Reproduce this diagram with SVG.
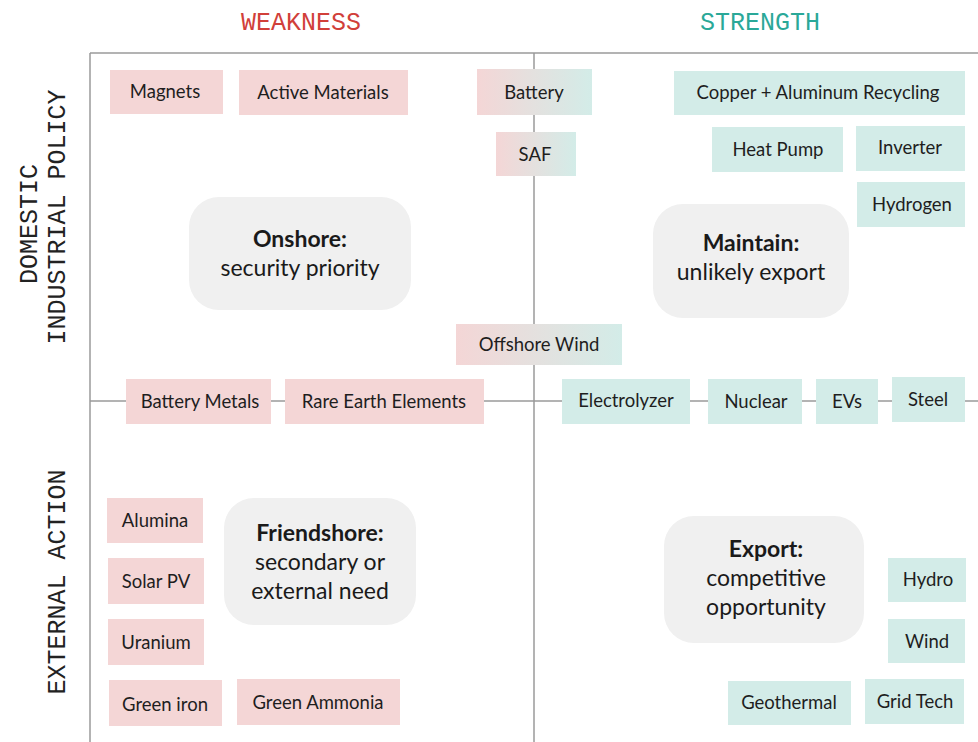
<svg xmlns="http://www.w3.org/2000/svg" width="978" height="742" viewBox="0 0 978 742">
<style>
.ax{font-family:"Liberation Mono","DejaVu Sans Mono",monospace;font-size:25px;fill:#222;text-anchor:middle}
.hd{font-family:"Liberation Mono","DejaVu Sans Mono",monospace;font-size:25px;text-anchor:middle}
.w{fill:#d13f3a}
.s{fill:#2aa898}
.pk{fill:#f4d6d6}
.tl{fill:#d3ece8}
.gr{fill:url(#pt)}
.t{font-family:Lato,"Open Sans",sans-serif;font-size:18.5px;fill:#1e1e1e;text-anchor:middle}
.rb{fill:#f0f0f0}
.bt{font-family:Lato,"Open Sans",sans-serif;font-size:23px;fill:#1a1a1a;text-anchor:middle}
.b{font-weight:bold}
.ln{stroke:#9a9a9a;stroke-width:1.5;fill:none}
</style>
<defs>
<linearGradient id="pt" x1="0" y1="0" x2="1" y2="0">
<stop offset="0" stop-color="#f4d6d6"/>
<stop offset="1" stop-color="#d3ece8"/>
</linearGradient>
</defs>
<rect width="978" height="742" fill="#fff"/>
<g id="labels">
<text class="hd w" x="301" y="30">WEAKNESS</text>
<text class="hd s" x="760" y="30">STRENGTH</text>
<text class="ax" transform="translate(37,224) rotate(-90)">DOMESTIC</text>
<text class="ax" transform="translate(65,217) rotate(-90)">INDUSTRIAL POLICY</text>
<text class="ax" transform="translate(65,582) rotate(-90)">EXTERNAL ACTION</text>
</g>
<g id="connectors">
<path class="ln" d="M90 53H978M90 53V742M534 53V742M90 401H978"/>
</g>
<g id="onshore"><rect class="rb" x="189" y="197" width="222" height="113" rx="30"/><text class="bt b" x="300" y="247">Onshore:</text><text class="bt" x="300" y="276">security priority</text></g>
<g id="maintain"><rect class="rb" x="653" y="204" width="196" height="114" rx="30"/><text class="bt b" x="751" y="251">Maintain:</text><text class="bt" x="751" y="280">unlikely export</text></g>
<g id="friendshore"><rect class="rb" x="224" y="498" width="192" height="127" rx="30"/><text class="bt b" x="320" y="541">Friendshore:</text><text class="bt" x="320" y="570">secondary or</text><text class="bt" x="320" y="599">external need</text></g>
<g id="export"><rect class="rb" x="664" y="516" width="200" height="127" rx="30"/><text class="bt b" x="766" y="557">Export:</text><text class="bt" x="766" y="586">competitive</text><text class="bt" x="766" y="615">opportunity</text></g>
<g id="magnets"><rect class="pk" x="110" y="70" width="113" height="44"/><text class="t" x="165" y="98">Magnets</text></g>
<g id="active-materials"><rect class="pk" x="239" y="70" width="169" height="45"/><text class="t" x="323" y="99">Active Materials</text></g>
<g id="battery"><rect class="gr" x="477" y="69" width="115" height="46"/><text class="t" x="534" y="99">Battery</text></g>
<g id="saf"><rect class="gr" x="496" y="132" width="80" height="44"/><text class="t" x="535" y="161">SAF</text></g>
<g id="copper"><rect class="tl" x="674" y="71" width="291" height="44"/><text class="t" x="818" y="99">Copper + Aluminum Recycling</text></g>
<g id="heat-pump"><rect class="tl" x="712" y="127" width="131" height="45"/><text class="t" x="778" y="156">Heat Pump</text></g>
<g id="inverter"><rect class="tl" x="856" y="126" width="109" height="45"/><text class="t" x="910" y="154">Inverter</text></g>
<g id="hydrogen"><rect class="tl" x="857" y="182" width="108" height="45"/><text class="t" x="912" y="211">Hydrogen</text></g>
<g id="offshore-wind"><rect class="gr" x="456" y="324" width="166" height="41"/><text class="t" x="539" y="351">Offshore Wind</text></g>
<g id="battery-metals"><rect class="pk" x="126" y="379" width="145" height="45"/><text class="t" x="200" y="408">Battery Metals</text></g>
<g id="rare-earth"><rect class="pk" x="285" y="379" width="199" height="45"/><text class="t" x="384" y="408">Rare Earth Elements</text></g>
<g id="electrolyzer"><rect class="tl" x="562" y="379" width="128" height="45"/><text class="t" x="626" y="407">Electrolyzer</text></g>
<g id="nuclear"><rect class="tl" x="708" y="379" width="94" height="45"/><text class="t" x="756" y="408">Nuclear</text></g>
<g id="evs"><rect class="tl" x="816" y="379" width="62" height="45"/><text class="t" x="847" y="408">EVs</text></g>
<g id="steel"><rect class="tl" x="892" y="377" width="73" height="45"/><text class="t" x="928" y="406">Steel</text></g>
<g id="alumina"><rect class="pk" x="107" y="498" width="96" height="45"/><text class="t" x="155" y="527">Alumina</text></g>
<g id="solar-pv"><rect class="pk" x="108" y="558" width="96" height="46"/><text class="t" x="156" y="588">Solar PV</text></g>
<g id="uranium"><rect class="pk" x="108" y="619" width="96" height="46"/><text class="t" x="156" y="649">Uranium</text></g>
<g id="green-iron"><rect class="pk" x="109" y="680" width="113" height="46"/><text class="t" x="165" y="711">Green iron</text></g>
<g id="green-ammonia"><rect class="pk" x="237" y="679" width="163" height="46"/><text class="t" x="318" y="709">Green Ammonia</text></g>
<g id="hydro"><rect class="tl" x="888" y="558" width="78" height="44"/><text class="t" x="928" y="586">Hydro</text></g>
<g id="wind"><rect class="tl" x="888" y="619" width="77" height="44"/><text class="t" x="927" y="648">Wind</text></g>
<g id="geothermal"><rect class="tl" x="728" y="681" width="123" height="44"/><text class="t" x="789" y="709">Geothermal</text></g>
<g id="grid-tech"><rect class="tl" x="865" y="679" width="99" height="45"/><text class="t" x="915" y="708">Grid Tech</text></g>
</svg>
